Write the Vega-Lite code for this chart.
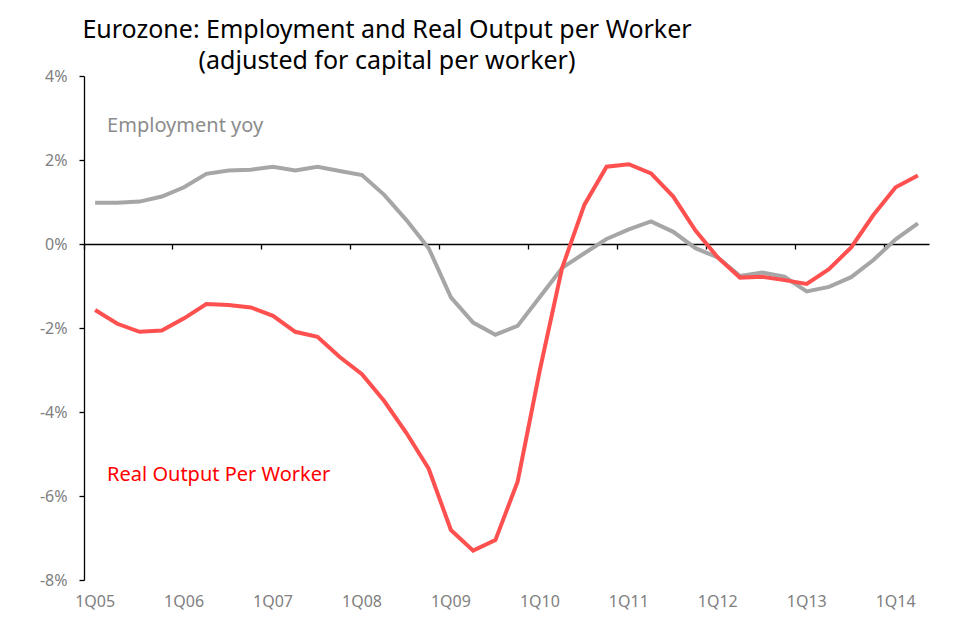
{
  "$schema": "https://vega.github.io/schema/vega-lite/v6.json",
  "width": 845,
  "height": 504,
  "autosize": "none",
  "padding": {"left": 84, "top": 76, "right": 47, "bottom": 57},
  "title": {
    "text": ["Eurozone: Employment and Real Output per Worker", "(adjusted for capital per worker)"],
    "anchor": "start",
    "frame": "group",
    "align": "center",
    "dx": 303,
    "font": "Noto Sans",
    "fontSize": 25,
    "fontWeight": "normal",
    "color": "black",
    "lineHeight": 31,
    "offset": -6
  },
  "datasets": {
    "quarters": [
      {"q": "1Q05", "employment": 0.98, "output": -1.57},
      {"q": "2Q05", "employment": 0.98, "output": -1.90},
      {"q": "3Q05", "employment": 1.01, "output": -2.09},
      {"q": "4Q05", "employment": 1.13, "output": -2.06},
      {"q": "1Q06", "employment": 1.35, "output": -1.77},
      {"q": "2Q06", "employment": 1.67, "output": -1.43},
      {"q": "3Q06", "employment": 1.75, "output": -1.45},
      {"q": "4Q06", "employment": 1.77, "output": -1.51},
      {"q": "1Q07", "employment": 1.84, "output": -1.71},
      {"q": "2Q07", "employment": 1.75, "output": -2.09},
      {"q": "3Q07", "employment": 1.84, "output": -2.21},
      {"q": "4Q07", "employment": 1.74, "output": -2.69},
      {"q": "1Q08", "employment": 1.64, "output": -3.10},
      {"q": "2Q08", "employment": 1.17, "output": -3.74},
      {"q": "3Q08", "employment": 0.57, "output": -4.50},
      {"q": "4Q08", "employment": -0.10, "output": -5.35},
      {"q": "1Q09", "employment": -1.27, "output": -6.81},
      {"q": "2Q09", "employment": -1.87, "output": -7.30},
      {"q": "3Q09", "employment": -2.16, "output": -7.05},
      {"q": "4Q09", "employment": -1.95, "output": -5.66},
      {"q": "1Q10", "employment": -1.26, "output": -3.00},
      {"q": "2Q10", "employment": -0.57, "output": -0.57},
      {"q": "3Q10", "employment": -0.22, "output": 0.93},
      {"q": "4Q10", "employment": 0.12, "output": 1.84},
      {"q": "1Q11", "employment": 0.35, "output": 1.90},
      {"q": "2Q11", "employment": 0.54, "output": 1.68},
      {"q": "3Q11", "employment": 0.29, "output": 1.13},
      {"q": "4Q11", "employment": -0.10, "output": 0.32},
      {"q": "1Q12", "employment": -0.32, "output": -0.32},
      {"q": "2Q12", "employment": -0.76, "output": -0.80},
      {"q": "3Q12", "employment": -0.68, "output": -0.78},
      {"q": "4Q12", "employment": -0.78, "output": -0.86},
      {"q": "1Q13", "employment": -1.13, "output": -0.95},
      {"q": "2Q13", "employment": -1.02, "output": -0.60},
      {"q": "3Q13", "employment": -0.79, "output": -0.08},
      {"q": "4Q13", "employment": -0.38, "output": 0.69},
      {"q": "1Q14", "employment": 0.11, "output": 1.35},
      {"q": "2Q14", "employment": 0.49, "output": 1.63}
    ],
    "notes": [
      {"series": "employment", "label": "Employment yoy", "q": "1Q05", "value": 2.67},
      {"series": "output", "label": "Real Output Per Worker", "q": "1Q05", "value": -5.64}
    ]
  },
  "layer": [
    {
      "data": {"name": "quarters"},
      "transform": [{"fold": ["employment", "output"], "as": ["series", "value"]}],
      "mark": {"type": "line", "strokeWidth": 4},
      "encoding": {
        "x": {
          "field": "q",
          "type": "ordinal",
          "sort": null,
          "bandPosition": 0.5,
          "scale": {
            "type": "band",
            "paddingInner": 0,
            "paddingOuter": 0,
            "domain": [
              "1Q05", "2Q05", "3Q05", "4Q05", "1Q06", "2Q06", "3Q06", "4Q06",
              "1Q07", "2Q07", "3Q07", "4Q07", "1Q08", "2Q08", "3Q08", "4Q08",
              "1Q09", "2Q09", "3Q09", "4Q09", "1Q10", "2Q10", "3Q10", "4Q10",
              "1Q11", "2Q11", "3Q11", "4Q11", "1Q12", "2Q12", "3Q12", "4Q12",
              "1Q13", "2Q13", "3Q13", "4Q13", "1Q14", "2Q14"
            ]
          },
          "axis": {
            "orient": "bottom",
            "offset": -336,
            "title": null,
            "grid": false,
            "bandPosition": 0,
            "values": ["1Q05", "1Q06", "1Q07", "1Q08", "1Q09", "1Q10", "1Q11", "1Q12", "1Q13", "1Q14"],
            "domainColor": "black",
            "domainWidth": 1.3,
            "tickColor": "black",
            "tickWidth": 1.3,
            "tickSize": 5,
            "labelAngle": 0,
            "labelOffset": 0,
            "labelPadding": 344,
            "labelFlush": false,
            "labelOverlap": false,
            "labelColor": "#808080",
            "labelFont": "Noto Sans",
            "labelFontSize": 16
          }
        },
        "y": {
          "field": "value",
          "type": "quantitative",
          "scale": {"domain": [-8, 4], "nice": false, "zero": false},
          "axis": {
            "title": null,
            "grid": false,
            "values": [-8, -6, -4, -2, 0, 2, 4],
            "labelExpr": "datum.value + '%'",
            "domainColor": "black",
            "domainWidth": 1.3,
            "tickColor": "black",
            "tickWidth": 1.3,
            "tickSize": 5,
            "labelPadding": 12,
            "labelColor": "#808080",
            "labelFont": "Noto Sans",
            "labelFontSize": 16
          }
        },
        "color": {
          "field": "series",
          "type": "nominal",
          "scale": {"domain": ["employment", "output"], "range": ["#a6a6a6", "#ff5050"]},
          "legend": null
        }
      }
    },
    {
      "data": {"name": "notes"},
      "transform": [{"filter": "datum.series === 'employment'"}],
      "mark": {"type": "text", "align": "left", "baseline": "alphabetic", "dx": 12, "font": "Noto Sans", "fontSize": 20, "color": "#8c8c8c"},
      "encoding": {
        "x": {"field": "q", "type": "ordinal", "sort": null, "bandPosition": 0.5},
        "y": {"field": "value", "type": "quantitative"},
        "text": {"field": "label"}
      }
    },
    {
      "data": {"name": "notes"},
      "transform": [{"filter": "datum.series === 'output'"}],
      "mark": {"type": "text", "align": "left", "baseline": "alphabetic", "dx": 12, "font": "Noto Sans", "fontSize": 20, "color": "#ff0000"},
      "encoding": {
        "x": {"field": "q", "type": "ordinal", "sort": null, "bandPosition": 0.5},
        "y": {"field": "value", "type": "quantitative"},
        "text": {"field": "label"}
      }
    }
  ],
  "config": {"view": {"stroke": null}}
}
